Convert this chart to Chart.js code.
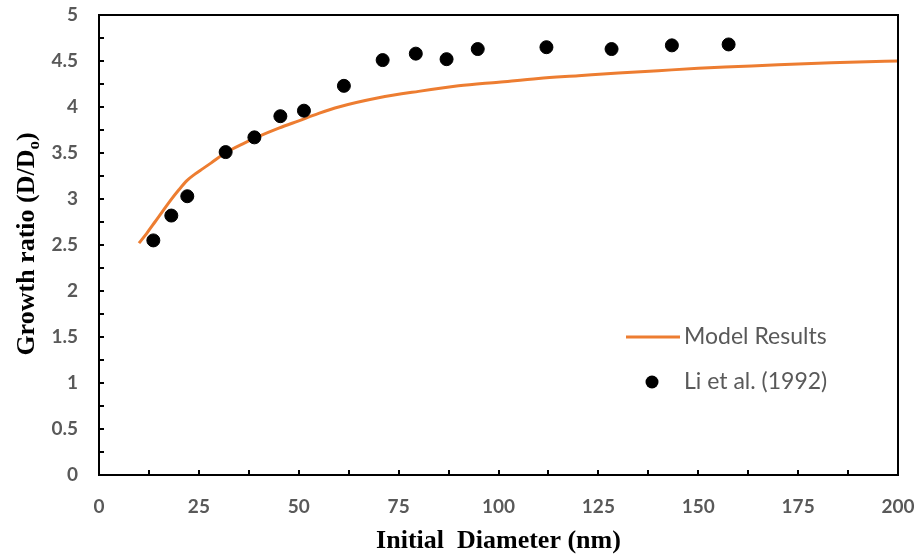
<!DOCTYPE html>
<html>
<head>
<meta charset="utf-8">
<script src="https://cdn.jsdelivr.net/npm/chart.js@4/dist/chart.umd.min.js"></script>
<style>
  html, body { margin: 0; padding: 0; background: #ffffff; }
  #wrap { width: 920px; height: 559px; }
</style>
</head>
<body>
<div id="wrap"><canvas id="c" width="920" height="559"></canvas></div>
<script>
// ---- Data ----
const modelDiameter = [10, 12, 14, 16, 18, 20, 22, 24, 26, 28, 32, 36, 40, 45, 50, 55, 60, 70, 80, 90, 100, 110, 120, 130, 140, 150, 160, 170, 180, 190, 200];
const modelRatio    = [2.52, 2.63, 2.75, 2.87, 2.99, 3.10, 3.20, 3.27, 3.33, 3.39, 3.51, 3.60, 3.68, 3.77, 3.85, 3.93, 4.00, 4.10, 4.17, 4.23, 4.27, 4.31, 4.34, 4.37, 4.395, 4.42, 4.44, 4.46, 4.475, 4.49, 4.50];

const obsDiameter = [13.6, 18.1, 22.1, 31.7, 38.9, 45.4, 51.3, 61.3, 71.0, 79.3, 87.0, 94.8, 112.0, 128.3, 143.4, 157.6];
const obsRatio    = [2.55, 2.82, 3.03, 3.51, 3.67, 3.90, 3.96, 4.23, 4.51, 4.58, 4.52, 4.63, 4.65, 4.63, 4.67, 4.68];

const xTicks = [0, 25, 50, 75, 100, 125, 150, 175, 200];
const yTicks = [0, 0.5, 1, 1.5, 2, 2.5, 3, 3.5, 4, 4.5, 5];

const seriesNames = ['Model Results', 'Li et al. (1992)'];
const xTitle = 'Initial  Diameter (nm)';
const yTitleMain = 'Growth ratio (D/D';
const yTitleSub = 'o';
const yTitleEnd = ')';

const ORANGE = '#ED7D31';
const GRAY = '#595959';

const decor = {
  id: 'decor',
  afterDraw(chart) {
    const ctx = chart.ctx;
    const a = chart.chartArea;
    const xs = chart.scales.x, ys = chart.scales.y;
    ctx.save();
    // box
    ctx.strokeStyle = '#000';
    ctx.lineWidth = 2;
    ctx.strokeRect(a.left, a.top, a.right - a.left, a.bottom - a.top);
    // inside ticks (major + minor)
    ctx.beginPath();
    for (let v = 12.5; v < 200; v += 12.5) {
      const px = Math.round(xs.getPixelForValue(v));
      ctx.moveTo(px, a.bottom);
      ctx.lineTo(px, a.bottom - 5);
    }
    for (let v = 0.25; v < 5; v += 0.25) {
      const py = Math.round(ys.getPixelForValue(v));
      ctx.moveTo(a.left, py);
      ctx.lineTo(a.left + 5, py);
    }
    ctx.stroke();

    // legend
    const lx0 = 626, lx1 = 680, ly1 = 337, ly2 = 382;
    ctx.strokeStyle = ORANGE;
    ctx.lineWidth = 3;
    ctx.beginPath();
    ctx.moveTo(lx0, ly1);
    ctx.lineTo(lx1, ly1);
    ctx.stroke();
    ctx.fillStyle = '#000';
    ctx.beginPath();
    ctx.arc(652, ly2, 6.5, 0, Math.PI * 2);
    ctx.fill();
    ctx.fillStyle = GRAY;
    ctx.font = '23px Lato';
    ctx.textBaseline = 'middle';
    ctx.textAlign = 'left';
    ctx.fillText(seriesNames[0], 684, ly1);
    ctx.fillText(seriesNames[1], 684, ly2);

    // x title
    ctx.fillStyle = '#000';
    ctx.font = 'bold 26px "Liberation Serif"';
    ctx.textAlign = 'center';
    ctx.textBaseline = 'middle';
    ctx.fillText(xTitle, 498.5, 541);

    // y title with subscript
    ctx.translate(26, 244);
    ctx.rotate(-Math.PI / 2);
    const fMain = 'bold 26px "Liberation Serif"';
    const fSub = 'bold 17px "Liberation Serif"';
    ctx.font = fMain;
    const w1 = ctx.measureText(yTitleMain).width;
    const w3 = ctx.measureText(yTitleEnd).width;
    ctx.font = fSub;
    const w2 = ctx.measureText(yTitleSub).width;
    const total = w1 + w2 + w3;
    let x = -total / 2;
    ctx.textAlign = 'left';
    ctx.textBaseline = 'alphabetic';
    const base = 8;
    ctx.font = fMain;
    ctx.fillText(yTitleMain, x, base);
    x += w1;
    ctx.font = fSub;
    ctx.fillText(yTitleSub, x, base + 5);
    x += w2;
    ctx.font = fMain;
    ctx.fillText(yTitleEnd, x, base);
    ctx.restore();
  }
};

new Chart(document.getElementById('c'), {
  type: 'scatter',
  data: {
    datasets: [
      {
        label: seriesNames[1],
        data: obsDiameter.map((d, i) => ({ x: d, y: obsRatio[i] })),
        backgroundColor: '#000',
        borderColor: '#000',
        pointRadius: 6.5,
        pointHoverRadius: 6.5,
        showLine: false,
        order: 0
      },
      {
        label: seriesNames[0],
        data: modelDiameter.map((d, i) => ({ x: d, y: modelRatio[i] })),
        borderColor: ORANGE,
        backgroundColor: ORANGE,
        borderWidth: 3,
        pointRadius: 0,
        showLine: true,
        cubicInterpolationMode: 'monotone',
        order: 1
      }
    ]
  },
  options: {
    responsive: false,
    devicePixelRatio: 1,
    animation: false,
    layout: { padding: { left: 0, right: 22, top: 15, bottom: 0 } },
    plugins: {
      legend: { display: false },
      tooltip: { enabled: false }
    },
    scales: {
      x: {
        type: 'linear',
        min: 0, max: 200,
        afterBuildTicks: s => { s.ticks = xTicks.map(v => ({ value: v })); },
        afterFit: s => { s.height = 84; s.paddingLeft = 0; s.paddingRight = 0; },
        grid: { display: false, drawTicks: false },
        border: { display: false },
        ticks: {
          padding: 20,
          color: GRAY,
          font: { family: 'Lato', size: 19, weight: 'bold' },
          maxRotation: 0,
          callback: v => String(v)
        }
      },
      y: {
        type: 'linear',
        min: 0, max: 5,
        afterBuildTicks: s => { s.ticks = yTicks.map(v => ({ value: v })); },
        afterFit: s => { s.width = 99; s.paddingTop = 0; s.paddingBottom = 0; },
        grid: { display: false, drawTicks: false },
        border: { display: false },
        ticks: {
          padding: 21,
          color: GRAY,
          font: { family: 'Lato', size: 19, weight: 'bold' },
          callback: v => String(v)
        }
      }
    }
  },
  plugins: [decor]
});
</script>
</body>
</html>
